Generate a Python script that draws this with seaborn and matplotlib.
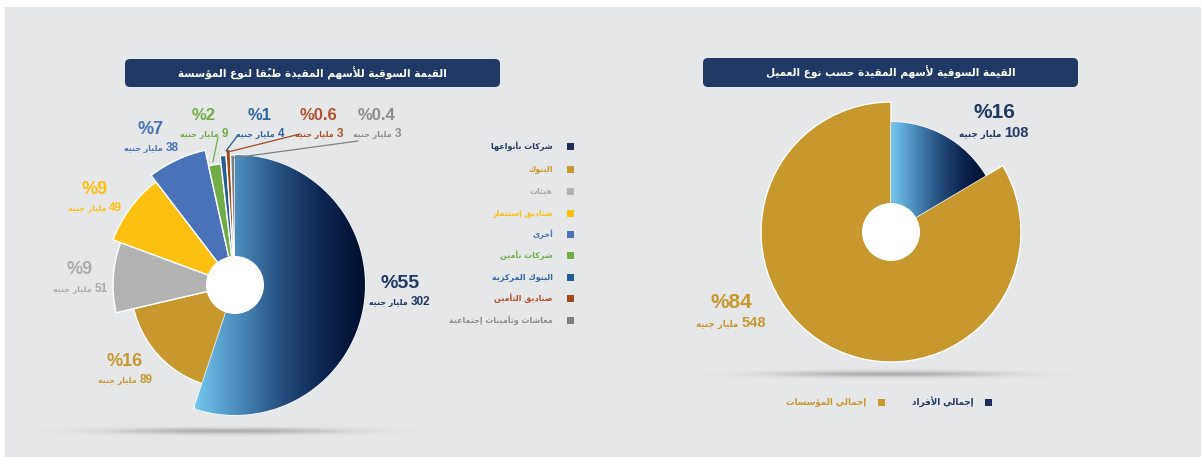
import numpy as np
import matplotlib
matplotlib.use("Agg")
import matplotlib.pyplot as plt
from matplotlib.patches import Circle, FancyBboxPatch, Rectangle
from matplotlib.colors import LinearSegmentedColormap
import seaborn as sns

# ---- data ----
inst_title = "القيمة السوقية للأسهم المقيدة طبقًا لنوع المؤسسة"
inst_labels = ["شركات بأنواعها", "البنوك", "هيئات", "صناديق إستثمار", "أخرى",
               "شركات تأمين", "البنوك المركزية", "صناديق التأمين",
               "معاشات وتأمينات إجتماعية"]
inst_values = [302, 89, 51, 49, 38, 9, 4, 3, 3]
inst_pct = [55, 16, 9, 9, 7, 2, 1, 0.6, 0.4]

client_title = "القيمة السوقية لأسهم المقيدة حسب نوع العميل"
client_labels = ["إجمالي الأفراد", "إجمالي المؤسسات"]
client_values = [108, 548]
client_pct = [16, 84]

unit = "مليار جنيه"

# ---- styles ----
W, H = 1201, 457
BG = "#e6e7e9"
NAVY = "#1f3864"
inst_colors = ["#1f2d5a", "#c6982e", "#b2b2b2", "#fdc010", "#4a72b8",
               "#70ad47", "#255e91", "#9e4a1f", "#7f7f7f"]
inst_text_colors = [NAVY, "#c6982e", "#ababab", "#fdc010", "#4a72b8",
                    "#70ad47", "#2e64a0", "#b0522a", "#8c8c8c"]
inst_radii = [130, 104, 122, 130, 138, 122, 130, 136, 130]
client_colors = ["#1f2d5a", "#c6982e"]
client_text_colors = [NAVY, "#c6982e"]
client_radii = [110, 130]

# label centres (pixel coords, y from top) of the percentage line
inst_lbl_pos = [(400, 283), (125, 361), (80, 270), (95, 189), (151, 129),
                (204, 115), (260, 115), (319, 115), (377, 115)]
inst_pct_size = [14, 13, 13, 13, 13, 12, 12, 12, 12]
client_lbl_pos = [(994, 112), (731, 302)]

grad_cmap = LinearSegmentedColormap.from_list(
    "grad", ["#74c6ef", "#4a8cbc", "#26507f", "#0c2550", "#00102e"])

sns.set_theme(style="white")
plt.rcParams["font.family"] = ["Liberation Sans", "DejaVu Sans"]

# ---- simple arabic shaping (matplotlib has no RTL layout) ----
_AR = {}
for ch, base, nf in [
        ("ء", 0xFE80, 1), ("آ", 0xFE81, 2), ("أ", 0xFE83, 2), ("ؤ", 0xFE85, 2),
        ("إ", 0xFE87, 2), ("ئ", 0xFE89, 4), ("ا", 0xFE8D, 2), ("ب", 0xFE8F, 4),
        ("ة", 0xFE93, 2), ("ت", 0xFE95, 4), ("ث", 0xFE99, 4), ("ج", 0xFE9D, 4),
        ("ح", 0xFEA1, 4), ("خ", 0xFEA5, 4), ("د", 0xFEA9, 2), ("ذ", 0xFEAB, 2),
        ("ر", 0xFEAD, 2), ("ز", 0xFEAF, 2), ("س", 0xFEB1, 4), ("ش", 0xFEB5, 4),
        ("ص", 0xFEB9, 4), ("ض", 0xFEBD, 4), ("ط", 0xFEC1, 4), ("ظ", 0xFEC5, 4),
        ("ع", 0xFEC9, 4), ("غ", 0xFECD, 4), ("ف", 0xFED1, 4), ("ق", 0xFED5, 4),
        ("ك", 0xFED9, 4), ("ل", 0xFEDD, 4), ("م", 0xFEE1, 4), ("ن", 0xFEE5, 4),
        ("ه", 0xFEE9, 4), ("و", 0xFEED, 2), ("ى", 0xFEEF, 2), ("ي", 0xFEF1, 4)]:
    _AR[ch] = (base, nf)
_LAMALEF = {"آ": 0xFEF5, "أ": 0xFEF7, "إ": 0xFEF9, "ا": 0xFEFB}


def ar(text):
    clusters = []
    for c in text:
        if "\u064b" <= c <= "\u0652" and clusters:
            clusters[-1][1] += c
        else:
            clusters.append([c, ""])
    units = []
    i = 0
    while i < len(clusters):
        c, marks = clusters[i]
        prev = clusters[i - 1][0] if i > 0 else None
        nxt = clusters[i + 1][0] if i + 1 < len(clusters) else None
        join_prev = (prev in _AR and _AR[prev][1] == 4
                     and c in _AR and _AR[c][1] > 1)
        if c == "ل" and nxt in _LAMALEF:
            units.append(chr(_LAMALEF[nxt] + (1 if join_prev else 0))
                         + marks + clusters[i + 1][1])
            i += 2
            continue
        if c in _AR:
            base, nf = _AR[c]
            join_next = nf == 4 and nxt in _AR and _AR[nxt][1] > 1
            if nf == 4:
                form = (1 if join_prev else 0) + (2 if join_next else 0)
            elif nf == 2:
                form = 1 if join_prev else 0
            else:
                form = 0
            units.append(chr(base + form) + marks)
        else:
            units.append(c + marks)
        i += 1
    runs = []
    for u in units:
        ltr = u[0].isascii() and not u[0].isspace()
        if runs and runs[-1][0] == ltr:
            runs[-1][1].append(u)
        else:
            runs.append([ltr, [u]])
    out = []
    for ltr, us in reversed(runs):
        out.append("".join(us) if ltr else "".join(reversed(us)))
    return "".join(out)


def Y(y):
    return H - y


def shadow(ax, cx, cy, w, h, strength=0.55):
    xs = np.linspace(-1, 1, 400)
    ys = np.linspace(-1, 1, 40)
    X, YY = np.meshgrid(xs, ys)
    img = np.zeros((40, 400, 4))
    img[..., :3] = 0.5
    img[..., 3] = strength * np.exp(-np.abs(X) ** 2.5 / 0.22 - (YY ** 2) / 0.18)
    ax.imshow(img, extent=(cx - w / 2, cx + w / 2, Y(cy + h / 2), Y(cy - h / 2)),
              interpolation="bilinear", zorder=1, aspect="auto")


def rose_pie(ax, values, colors, radii, cx, cy, grad_box):
    wedges, _ = ax.pie(values, colors=colors, startangle=90, counterclock=False,
                       center=(cx, Y(cy)), radius=radii[0],
                       wedgeprops=dict(edgecolor="white", linewidth=1.0))
    for w, r in zip(wedges, radii):
        w.set_radius(r)
        w.set_zorder(2)
    x0, x1, ytop, ybot = grad_box
    im = ax.imshow(np.linspace(0, 1, 256)[None, :], cmap=grad_cmap,
                   extent=(x0, x1, Y(ybot), Y(ytop)), aspect="auto",
                   interpolation="bilinear", zorder=2.5)
    im.set_clip_path(wedges[0])
    ax.add_patch(Circle((cx, Y(cy)), 29, fc="white", ec="none", zorder=5))
    return wedges


def title_box(ax, x0, y0, x1, y1, text):
    ax.add_patch(FancyBboxPatch((x0, Y(y1)), x1 - x0, y1 - y0,
                                boxstyle="round,pad=0,rounding_size=5",
                                fc=NAVY, ec="none", zorder=3))
    ax.text((x0 + x1) / 2, Y((y0 + y1) / 2), ar(text), color="white",
            fontsize=7.6, fontweight="bold", ha="center", va="center", zorder=4,
            family=["DejaVu Sans"])


def value_label(ax, x, y, pct, val, color, big, num_size, ar_size, dy=18):
    ax.text(x, Y(y), f"%{pct:g}", color=color, fontsize=big, fontweight="bold",
            ha="center", va="center", zorder=6)
    # number on the right, unit (arabic) on the left, centred as a group
    rend = fig.canvas.get_renderer()
    t_num = ax.text(0, Y(y + dy + 4), str(val), color=color, fontsize=num_size,
                    fontweight="bold", ha="left", va="baseline", zorder=6)
    t_ar = ax.text(0, Y(y + dy + 4), ar(unit), color=color, fontsize=ar_size,
                   fontweight="bold", ha="right", va="baseline", zorder=6,
                   family=["DejaVu Sans"])
    w_num = t_num.get_window_extent(rend).width
    w_ar = t_ar.get_window_extent(rend).width
    gap = 3
    left = x - (w_num + w_ar + gap) / 2
    t_ar.set_x(left + w_ar)
    t_num.set_x(left + w_ar + gap)


fig = plt.figure(figsize=(W / 100, H / 100), dpi=100, facecolor="white")
ax = fig.add_axes([0, 0, 1, 1])
ax.set_xlim(0, W)
ax.set_ylim(0, H)
ax.add_patch(Rectangle((5, 0), W - 5, H - 7, fc=BG, ec="none", zorder=0))

# ---- left: by institution ----
shadow(ax, 228, 431, 410, 14)
rose_pie(ax, inst_values, inst_colors, inst_radii, 235, 285, (195, 366, 155, 417))
ax.set_xlim(0, W)
ax.set_ylim(0, H)
title_box(ax, 125, 59, 500, 87, inst_title)
for i, (x, y) in enumerate(inst_lbl_pos):
    value_label(ax, x, y, inst_pct[i], inst_values[i], inst_text_colors[i],
                inst_pct_size[i], 8.5, 5.6)

# leader lines for the thin slices
leaders = [((218, 137), (213, 162), 5), ((238, 135), (226, 151), 6),
           ((300, 134), (228, 152), 7), ((358, 141), (233, 158), 8)]
for (x0, y0), (x1, y1), k in leaders:
    ax.plot([x0, x1], [Y(y0), Y(y1)], color=inst_colors[k], lw=0.9, zorder=6)

legend_rows = [146, 169, 191, 213, 234, 255, 277, 298, 320]
for lab, col, tcol, y in zip(inst_labels, inst_colors, inst_text_colors, legend_rows):
    ax.add_patch(Rectangle((567, Y(y) - 3.5), 7, 7, fc=col, ec="none", zorder=6))
    ax.text(553, Y(y), ar(lab), color=tcol, fontsize=5.8, fontweight="bold",
            ha="right", va="center", family=["DejaVu Sans"], zorder=6)

# ---- right: by client ----
shadow(ax, 888, 374, 400, 14)
rose_pie(ax, client_values, client_colors, client_radii, 891, 232, (891, 986, 121, 232))
ax.set_xlim(0, W)
ax.set_ylim(0, H)
title_box(ax, 703, 58, 1078, 87, client_title)
for i, (x, y) in enumerate(client_lbl_pos):
    value_label(ax, x, y, client_pct[i], client_values[i], client_text_colors[i],
                15, 10.5, 6.3, dy=21)

for lab, col, xs in zip(client_labels, client_colors, [988.5, 881.5]):
    ax.add_patch(Rectangle((xs - 3.5, Y(402) - 3.5), 7, 7, fc=col, ec="none", zorder=6))
    ax.text(xs - 15, Y(402), ar(lab), color=col if col != "#1f2d5a" else NAVY,
            fontsize=6.3, fontweight="bold", ha="right", va="center",
            family=["DejaVu Sans"], zorder=6)

ax.set_xlim(0, W)
ax.set_ylim(0, H)
ax.set_aspect("auto")
ax.set_axis_off()
fig.savefig("out.png", dpi=100, facecolor="white")
